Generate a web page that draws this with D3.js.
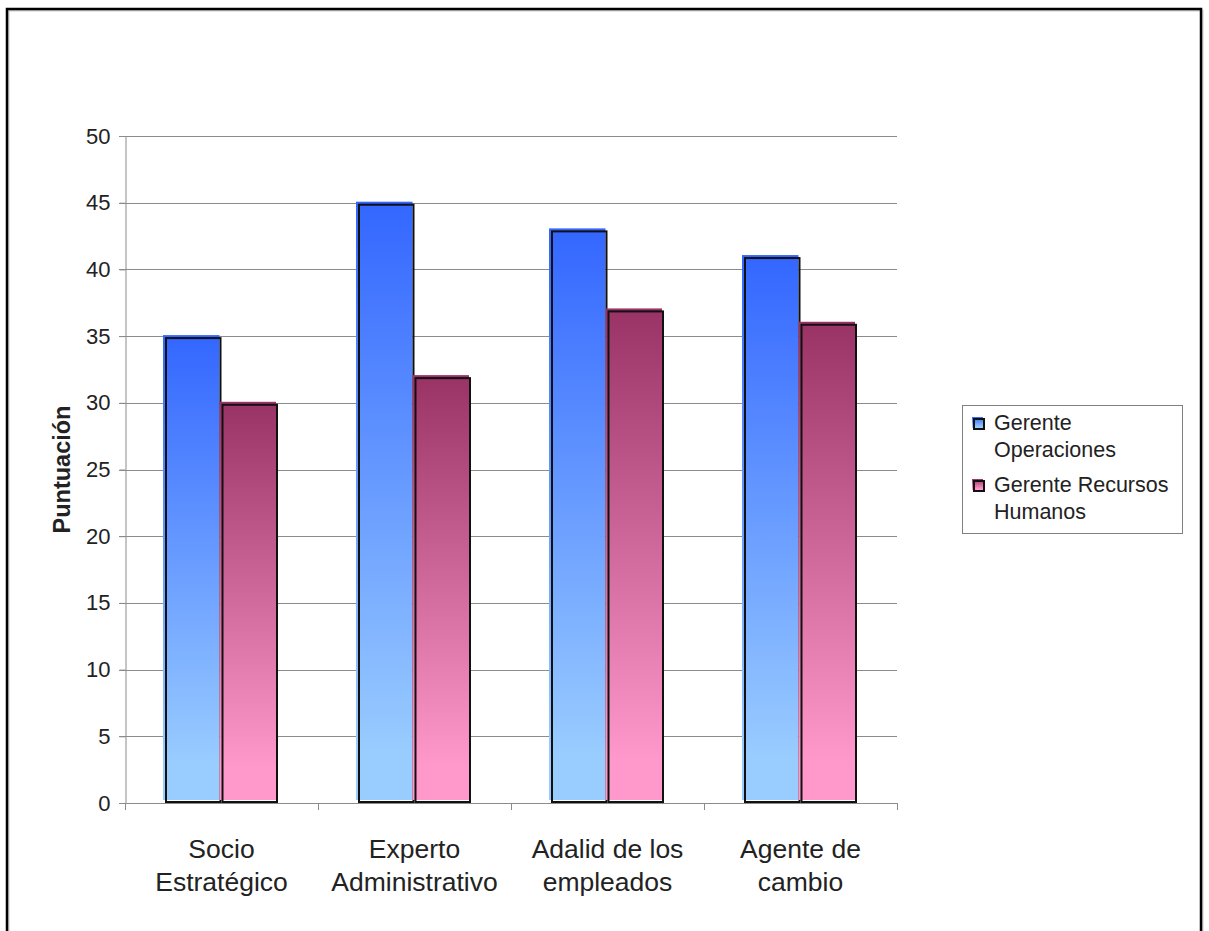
<!DOCTYPE html>
<html>
<head>
<meta charset="utf-8">
<script src="https://cdn.jsdelivr.net/npm/d3@7"></script>
<style>
    body { margin: 0; background: #fff; }
    text { font-family: "Liberation Sans", Arial, sans-serif; fill: #222; }
</style>
</head>
<body>
<div id="chart"></div>
<script>
const categories = [["Socio", "Estratégico"], ["Experto", "Administrativo"], ["Adalid de los", "empleados"], ["Agente de", "cambio"]];
const series = ["Gerente Operaciones", "Gerente Recursos Humanos"];
const legendLines = [["Gerente", "Operaciones"], ["Gerente Recursos", "Humanos"]];
const operaciones = [35, 45, 43, 41];
const recursosHumanos = [30, 32, 37, 36];
const yTicks = [0, 5, 10, 15, 20, 25, 30, 35, 40, 45, 50];

const values = [operaciones, recursosHumanos];
const gradients = [["#3366ff", "#99ccff"], ["#993366", "#ff99cc"]];

let width = 1209, height = 931;
let margin = { "top": 136, "left": 125, "right": 312, "bottom": 128 };

let svg = d3.select("#chart")
    .append("svg")
    .attr("width", width)
    .attr("height", height);

/** gradients */
let defs = svg.append("defs");
gradients.forEach((g, i) => {
    let grad = defs.append("linearGradient")
        .attr("id", "grad" + i)
        .attr("x1", 0).attr("y1", 0)
        .attr("x2", 0).attr("y2", 1);
    grad.append("stop").attr("offset", "0%").attr("stop-color", g[0]);
    grad.append("stop").attr("offset", "92%").attr("stop-color", g[1]);
    grad.append("stop").attr("offset", "100%").attr("stop-color", g[1]);
});

/** outer frame */
svg.append("rect")
    .attr("x", 8.5).attr("y", 10.5)
    .attr("width", 1194).attr("height", 940)
    .attr("fill", "none")
    .attr("stroke", "#ccc")
    .attr("stroke-width", 2);
svg.append("rect")
    .attr("x", 7).attr("y", 9)
    .attr("width", 1194).attr("height", 940)
    .attr("fill", "none")
    .attr("stroke", "#000")
    .attr("stroke-width", 2.5);

/** scales */
let xScale = d3.scaleBand()
    .domain(d3.range(categories.length))
    .range([margin.left, width - margin.right])
    .paddingInner(0)
    .paddingOuter(0);

let xSub = d3.scaleBand()
    .domain(d3.range(series.length))
    .range([0, xScale.bandwidth()])
    .paddingInner(0)
    .paddingOuter(0.708);

let yScale = d3.scaleLinear()
    .domain([0, 50])
    .range([height - margin.bottom, margin.top]);

let x0 = margin.left, x1 = width - margin.right, y0 = yScale(0);

/** grid */
let axis = svg.append("g").attr("class", "axis");
axis.selectAll(".gridline")
    .data(yTicks.slice(1))
    .enter().append("line")
    .attr("class", "gridline")
    .attr("x1", x0 - 6).attr("x2", x1)
    .attr("y1", d => Math.round(yScale(d)) + 0.5)
    .attr("y2", d => Math.round(yScale(d)) + 0.5)
    .attr("stroke", "#8c8c8c")
    .attr("stroke-width", 1);

/** y axis */
let axisY = d3.axisLeft(yScale)
    .tickValues(yTicks)
    .tickSize(6)
    .tickPadding(9)
    .tickFormat(d3.format("d"));

axis.append("g")
    .attr("class", "axis_y")
    .attr("transform", `translate(${x0 + 0.5}, 0)`)
    .call(axisY);

axis.selectAll(".axis_y path, .axis_y line")
    .attr("stroke", "#8c8c8c");
axis.selectAll(".axis_y text")
    .attr("font-size", 22)
    .attr("font-family", "Liberation Sans, Arial, sans-serif")
    .attr("fill", "#2a2a2a");

/* bars */
let content = svg.append("g").attr("class", "content");
series.forEach((s, si) => {
    let group = content.append("g").attr("class", "barGroup");
    let bars = group.selectAll("g")
        .data(values[si])
        .enter().append("g");
    bars.append("rect")
        .attr("class", "mark")
        .attr("x", (d, i) => xScale(i) + xSub(si) - 2)
        .attr("y", d => yScale(d) - 1)
        .attr("width", xSub.bandwidth())
        .attr("height", d => y0 - 3 - (yScale(d) - 1))
        .attr("fill", `url(#grad${si})`);
    bars.append("rect")
        .attr("x", (d, i) => xScale(i) + xSub(si) + 1)
        .attr("y", d => yScale(d) + 2)
        .attr("width", xSub.bandwidth() - 2)
        .attr("height", d => y0 - 1 - (yScale(d) + 2))
        .attr("fill", "none")
        .attr("stroke", "#111")
        .attr("stroke-width", 2);
});

/** x axis */
axis.append("line")
    .attr("x1", x0 - 6).attr("x2", x1)
    .attr("y1", Math.round(y0) + 0.5).attr("y2", Math.round(y0) + 0.5)
    .attr("stroke", "#8c8c8c");
axis.selectAll(".xtick")
    .data(d3.range(categories.length + 1))
    .enter().append("line")
    .attr("class", "xtick")
    .attr("x1", i => Math.round(x0 + i * xScale.step()) + 0.5)
    .attr("x2", i => Math.round(x0 + i * xScale.step()) + 0.5)
    .attr("y1", y0).attr("y2", y0 + 7)
    .attr("stroke", "#8c8c8c");

/* category labels */
let labels = svg.append("g").attr("class", "xlabels");
categories.forEach((c, i) => {
    c.forEach((line, li) => {
        labels.append("text")
            .attr("x", xScale(i) + xScale.bandwidth() / 2)
            .attr("y", y0 + 55 + li * 33)
            .attr("text-anchor", "middle")
            .attr("font-size", 26.5)
            .attr("fill", "#2a2a2a")
            .text(line);
    });
});

/* y title */
svg.append("text")
    .attr("transform", `translate(70, ${(yScale(0) + yScale(50)) / 2}) rotate(-90)`)
    .attr("text-anchor", "middle")
    .attr("font-size", 23.5)
    .attr("font-weight", "bold")
    .text("Puntuación");

/* legend */
let legend = svg.append("g").attr("class", "legend");
legend.append("rect")
    .attr("x", 962.5).attr("y", 405.5)
    .attr("width", 220).attr("height", 128)
    .attr("fill", "#fff")
    .attr("stroke", "#808080");
legendLines.forEach((lines, si) => {
    let top = 430 + si * 62;
    legend.append("rect")
        .attr("x", 972).attr("y", top - 13)
        .attr("width", 11).attr("height", 11)
        .attr("fill", `url(#grad${si})`);
    legend.append("rect")
        .attr("x", 974).attr("y", top - 11)
        .attr("width", 10).attr("height", 10)
        .attr("fill", "none")
        .attr("stroke", "#111")
        .attr("stroke-width", 2);
    lines.forEach((line, li) => {
        legend.append("text")
            .attr("x", 994)
            .attr("y", top + li * 27)
            .attr("font-size", 21.5)
            .attr("fill", "#2a2a2a")
            .text(line);
    });
});
</script>
</body>
</html>
